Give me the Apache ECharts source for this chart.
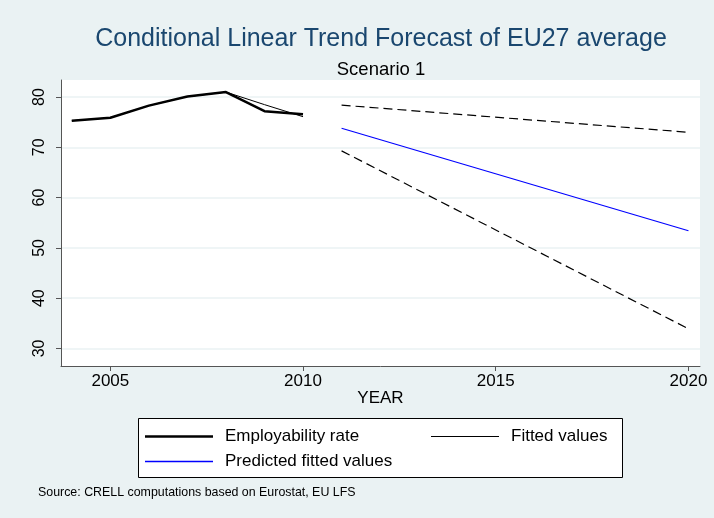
<!DOCTYPE html>
<html>
<head>
    <meta charset="utf-8">
    <script src="https://cdn.jsdelivr.net/npm/echarts@6/dist/echarts.min.js"></script>
    <style>
        html, body { margin: 0; padding: 0; background: #eaf2f3; }
    </style>
</head>
<body>
<div id="main" style="width: 714px;height:518px;"></div>
<script type="text/javascript">
    // data
    var years = [2004, 2005, 2006, 2007, 2008, 2009, 2010];
    var employability = [75.3, 75.9, 78.3, 80.1, 81.0, 77.2, 76.6];
    var fitted = [75.3, 75.9, 78.3, 80.1, 81.0, 78.5, 76.1];
    var forecastYears = [2011, 2020];
    var predicted = [73.8, 53.4];
    var upperBound = [78.4, 73.0];
    var lowerBound = [69.3, 33.9];
    var xTicks = [2005, 2010, 2015, 2020];
    var yTicks = [30, 40, 50, 60, 70, 80];

    function pairs(xs, ys) {
        var out = [];
        for (let i = 0; i < xs.length; i++) {
            out.push([xs[i], ys[i]]);
        }
        return out;
    }

    var font = 'Liberation Sans, Arial, sans-serif';
    var legendText = { fontFamily: font, fontSize: 17, color: '#000', padding: [0, 0, 0, 7] };
    var myChart = echarts.init(document.getElementById('main'));

    // one legend per entry so each line keeps its own thickness
    function legendItem(name, left, top, h) {
        return {
            data: [name], left: left, top: top, padding: 0,
            icon: 'rect', itemWidth: 68, itemHeight: h,
            textStyle: legendText
        };
    }

    myChart.setOption({
        backgroundColor: '#eaf2f3',
        animation: false,
        title: [{
            text: 'Conditional Linear Trend Forecast of EU27 average',
            left: 381, top: 27, textAlign: 'center', padding: 0,
            textStyle: { fontFamily: font, fontSize: 25, fontWeight: 'normal', color: '#1a476f' }
        }, {
            text: 'Scenario 1',
            left: 381, top: 60, textAlign: 'center', padding: 0,
            textStyle: { fontFamily: font, fontSize: 18.5, fontWeight: 'normal', color: '#000' }
        }, {
            text: 'Source: CRELL computations based on Eurostat, EU LFS',
            left: 38, top: 487, padding: 0,
            textStyle: { fontFamily: font, fontSize: 12.4, fontWeight: 'normal', color: '#000' }
        }],
        grid: {
            left: 61, right: 14, top: 80, bottom: 152,
            show: true, backgroundColor: '#fff', borderWidth: 0
        },
        graphic: [{
            type: 'rect',
            shape: { x: 138.5, y: 418.5, width: 484, height: 59 },
            style: { fill: '#fff', stroke: '#000', lineWidth: 1 },
            z: 0
        }],
        legend: [
            legendItem('Employability rate', 145, 428, 2.5),
            legendItem('Predicted fitted values', 145, 453, 1.3),
            legendItem('Fitted values', 431, 428, 1)
        ],
        xAxis: {
            type: 'value',
            min: 2003.72, max: 2020.3,
            name: 'YEAR',
            nameLocation: 'middle',
            nameGap: 24,
            nameMoveOverlap: false,
            nameTextStyle: { fontFamily: font, fontSize: 17, color: '#000' },
            axisLine: { lineStyle: { color: '#555', width: 1 } },
            axisTick: { length: 5, customValues: xTicks, lineStyle: { color: '#555' } },
            axisLabel: {
                customValues: xTicks, fontFamily: font, fontSize: 17, color: '#000', margin: 7,
                formatter: function (v) { return String(v); }
            },
            splitLine: { show: false }
        },
        yAxis: {
            type: 'value',
            min: 26.5, max: 83.4,
            axisLine: { show: true, lineStyle: { color: '#555', width: 1 } },
            axisTick: { show: true, length: 5, customValues: yTicks, lineStyle: { color: '#555' } },
            axisLabel: { customValues: yTicks, rotate: 90, fontFamily: font, fontSize: 16, color: '#000', margin: 13 },
            splitLine: { show: true, lineStyle: { color: '#eaf2f3', width: 1.5 } }
        },
        series: [{
            name: 'Employability rate',
            type: 'line',
            data: pairs(years, employability),
            symbol: 'none',
            lineStyle: { color: '#000', width: 2.5 },
            itemStyle: { color: '#000' },
            z: 5
        }, {
            name: 'Fitted values',
            type: 'line',
            data: pairs(years, fitted),
            symbol: 'none',
            lineStyle: { color: '#000', width: 1 },
            itemStyle: { color: '#000' },
            z: 4
        }, {
            name: 'Predicted fitted values',
            type: 'line',
            data: pairs(forecastYears, predicted),
            symbol: 'none',
            lineStyle: { color: '#0000ff', width: 1.2 },
            itemStyle: { color: '#0000ff' }
        }, {
            name: 'Upper bound',
            type: 'line',
            data: pairs(forecastYears, upperBound),
            symbol: 'none',
            lineStyle: { color: '#000', width: 1.2, type: [9, 5] }
        }, {
            name: 'Lower bound',
            type: 'line',
            data: pairs(forecastYears, lowerBound),
            symbol: 'none',
            lineStyle: { color: '#000', width: 1.2, type: [9, 5] }
        }]
    });
</script>
</body>
</html>
